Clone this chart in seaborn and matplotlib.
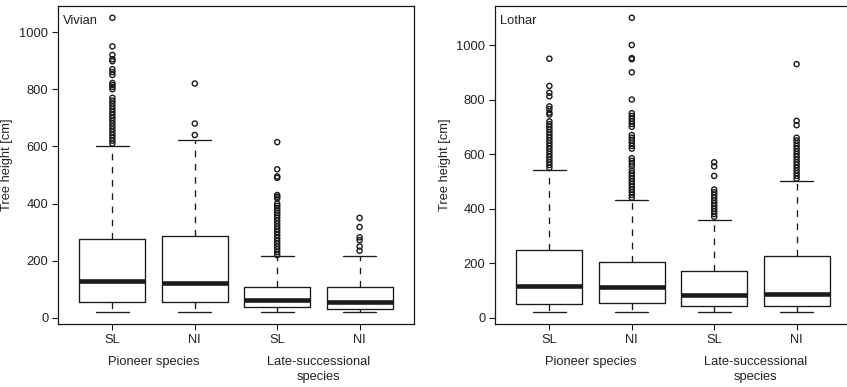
import pandas as pd
import seaborn as sns
import matplotlib.pyplot as plt

# Box categories and labels
groups = ["Pioneer SL", "Pioneer NI", "Late SL", "Late NI"]
tick_labels = ["SL", "NI", "SL", "NI"]
species_labels = ["Pioneer species", "Late-successional\nspecies"]

# Vivian: box statistics (cm)
vivian_low = [20, 20, 20, 20]
vivian_q1 = [55, 55, 38, 31]
vivian_med = [128, 122, 62, 55]
vivian_q3 = [275, 287, 109, 107]
vivian_high = [600, 621, 215, 215]

# Vivian outliers
vivian_out_pio_sl = [1050, 950, 920, 905, 898, 870, 860, 850, 822, 815, 808, 800,
                     770, 760, 750, 740, 730, 720, 710, 700, 690, 680, 670, 660,
                     650, 640, 630, 620, 610]
vivian_out_pio_ni = [820, 680, 640]
vivian_out_late_sl = [615, 520, 495, 490, 430, 424, 418, 400, 392, 384, 376, 368,
                      360, 350, 340, 330, 320, 310, 300, 290, 280, 270, 260, 250,
                      240, 230, 220]
vivian_out_late_ni = [350, 318, 282, 272, 250, 235]

# Lothar: box statistics
lothar_low = [20, 20, 20, 20]
lothar_q1 = [50, 54, 41, 44]
lothar_med = [118, 114, 82, 87]
lothar_q3 = [249, 206, 170, 228]
lothar_high = [540, 430, 360, 500]

# Lothar outliers
lothar_out_pio_sl = [950, 850, 825, 812, 775, 765, 752, 745, 720, 710, 700, 690,
                     680, 670, 660, 650, 640, 630, 620, 610, 600, 590, 580, 570,
                     560, 550]
lothar_out_pio_ni = [1100, 1000, 952, 948, 900, 800, 750, 740, 730, 720, 710, 700,
                     670, 660, 650, 640, 630, 620, 585, 575, 565, 555, 540, 530,
                     520, 510, 500, 490, 480, 470, 460, 450, 440]
lothar_out_late_sl = [570, 555, 520, 470, 460, 450, 440, 430, 420, 410, 400, 390,
                      380, 370]
lothar_out_late_ni = [930, 722, 706, 660, 650, 640, 630, 620, 610, 600, 590, 580,
                      570, 560, 550, 540, 530, 520, 510]

sns.set_style("ticks")
plt.rcParams['font.family'] = ['Liberation Sans', 'DejaVu Sans']
plt.rcParams['font.size'] = 9.3
text_col = "#222222"
line_col = "#1a1a1a"


def draw_panel(ax, name, low, q1, med, q3, high, outliers):
    rows = []
    for g, vals in zip(groups, outliers):
        rows += [(g, v) for v in vals]
    df = pd.DataFrame(rows, columns=["group", "height"])

    # outliers as open circles
    sns.stripplot(data=df, x="group", y="height", order=groups, jitter=False,
                  size=3.7, color=line_col, edgecolor=line_col, linewidth=1.0, ax=ax)
    for coll in ax.collections:
        coll.set_facecolor("none")
        coll.set_edgecolor(line_col)

    stats = [dict(whislo=low[i], q1=q1[i], med=med[i], q3=q3[i], whishi=high[i], fliers=[])
             for i in range(len(groups))]
    ax.bxp(stats, positions=range(len(groups)), widths=0.8, showfliers=False,
           manage_ticks=False,
           boxprops=dict(color=line_col, lw=0.95),
           medianprops=dict(color=line_col, lw=3.3, solid_capstyle="butt"),
           whiskerprops=dict(color=line_col, lw=0.95, linestyle=(0, (5, 5))),
           capprops=dict(color=line_col, lw=0.95))

    # R-like limits: data range padded by 4%
    ymin = min(low)
    ymax = max(max(o) for o in outliers)
    pad = 0.04 * (ymax - ymin)
    ax.set_ylim(ymin - pad, ymax + pad)
    ax.set_xlim(-0.66, 3.66)

    ax.set_xticks(range(len(groups)), tick_labels)
    ax.set_yticks([0, 200, 400, 600, 800, 1000])
    ax.tick_params(axis="both", length=4.5, width=0.8, color=line_col,
                   labelcolor=text_col, labelsize=9.3)
    ax.tick_params(axis="y", pad=2.5)
    ax.tick_params(axis="x", pad=2.5)
    ax.set_xlabel("")
    ax.set_ylabel("Tree height [cm]", color=text_col, fontsize=9.3)
    for s in ax.spines.values():
        s.set_visible(True)
        s.set_linewidth(0.9)
        s.set_color(line_col)

    for i, lab in enumerate(species_labels):
        ax.annotate(lab, xy=(2 * i + 0.5, 0), xycoords=("data", "axes fraction"),
                    xytext=(0, -32), textcoords="offset pixels", ha="center", va="top",
                    linespacing=1.3, color=text_col, fontsize=9.3)
    ax.annotate(name, xy=(0, 1), xycoords="axes fraction", xytext=(5, -14.5),
                textcoords="offset pixels", ha="left", va="center",
                color=text_col, fontsize=9.3)


fig = plt.figure(figsize=(8.47, 3.87), dpi=100)
ax1 = fig.add_axes([58 / 847, 63 / 387, 356 / 847, 318 / 387])
ax2 = fig.add_axes([495 / 847, 63 / 387, 356 / 847, 318 / 387])

draw_panel(ax1, "Vivian", vivian_low, vivian_q1, vivian_med, vivian_q3, vivian_high,
           [vivian_out_pio_sl, vivian_out_pio_ni, vivian_out_late_sl, vivian_out_late_ni])
draw_panel(ax2, "Lothar", lothar_low, lothar_q1, lothar_med, lothar_q3, lothar_high,
           [lothar_out_pio_sl, lothar_out_pio_ni, lothar_out_late_sl, lothar_out_late_ni])

ax1.yaxis.set_label_coords(-0.127, 0.5)
ax2.yaxis.set_label_coords(-0.124, 0.5)

plt.savefig("out.png", dpi=100)
